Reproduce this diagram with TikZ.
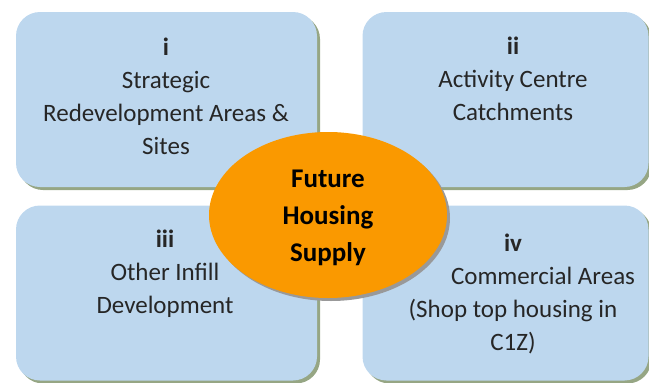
\documentclass[tikz,border=0pt]{standalone}
\usepackage{fontspec}
\setmainfont{Carlito}
\usepackage{xcolor}
\usepackage{tikz}
\usetikzlibrary{shapes,shadows}

\definecolor{areablue}{RGB}{189,215,238}
\definecolor{areashadow}{RGB}{150,166,132}
\definecolor{supplyorange}{RGB}{250,153,0}
\definecolor{areatext}{RGB}{38,38,38}

\begin{document}
\begin{tikzpicture}[x=1pt, y=-1pt,
    area/.style={fill=areablue, rounded corners=24pt, minimum height=175pt, inner sep=0pt,
        drop shadow={shadow xshift=3pt, shadow yshift=-3pt, fill=areashadow, opacity=1}},
    arealabel/.style={align=center, text=areatext, font=\fontsize{25}{33}\selectfont},
    supply/.style={ellipse, fill=supplyorange, minimum width=238pt, minimum height=166pt, inner sep=0pt,
        drop shadow={shadow xshift=3pt, shadow yshift=-3pt, fill=black!40, opacity=1}},
    supplylabel/.style={align=center, font=\bfseries\fontsize{27}{37}\selectfont}]
    \useasboundingbox (0,0) rectangle (649,383);

    % Four areas
    \node[area, minimum width=301pt] (strategic) at (166.5,99.5) {};
    \node[area, minimum width=286pt] (activity) at (505.5,99.5) {};
    \node[area, minimum width=301pt] (infill) at (166.5,293) {};
    \node[area, minimum width=286pt] (commercial) at (505.5,293) {};

    \node[arealabel] (strategic-txt) at (166,96) {\textbf{i}\\Strategic\\Redevelopment Areas \&\\Sites};
    \node[arealabel] (activity-txt) at (513,79) {\textbf{ii}\\Activity Centre\\Catchments};
    \node[arealabel] (infill-txt) at (165,274) {\textbf{iii}\\Other Infill\\Development};
    \node[arealabel] (commercial-txt) at (513,294) {\textbf{iv}\\\hspace*{60pt}Commercial Areas\\(Shop top housing in\\C1Z)};

    % Centre
    \node[supply] (future) at (328,215) {};
    \node[supplylabel] (future-txt) at (328,218) {Future\\Housing\\Supply};
\end{tikzpicture}
\end{document}
